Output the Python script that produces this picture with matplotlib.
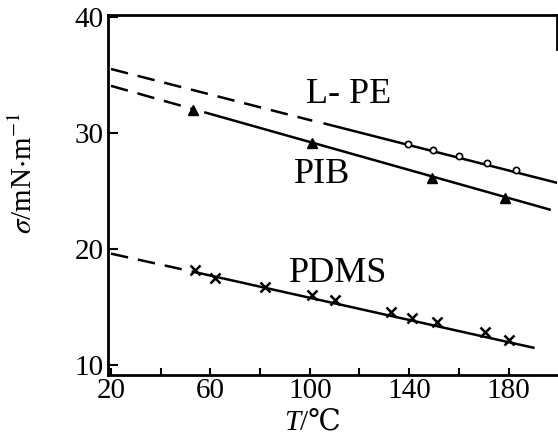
import matplotlib
matplotlib.use("Agg")
import matplotlib.pyplot as plt
from matplotlib.ticker import FixedLocator

plt.rcParams['font.family'] = ['Liberation Serif', 'DejaVu Serif', 'Noto Sans CJK SC']
plt.rcParams['mathtext.fontset'] = 'stix'

# Surface tension (mN/m) versus temperature (deg C)
# L-PE: measured points and fitted line (dashed = extrapolation)
lpe_T = [139.5, 149.5, 160.0, 171.5, 183.0]
lpe_sigma = [29.0, 28.5, 28.05, 27.4, 26.8]
lpe_extrap_T = [20, 101]
lpe_extrap_sigma = [35.5, 31.05]
lpe_fit_T = [106, 199.5]
lpe_fit_sigma = [30.8, 25.7]

# PIB
pib_T = [53.0, 101.0, 149.0, 178.5]
pib_sigma = [32.0, 29.1, 26.1, 24.4]
pib_extrap_T = [20, 53]
pib_extrap_sigma = [34.05, 32.05]
pib_fit_T = [58, 196.5]
pib_fit_sigma = [31.75, 23.4]

# PDMS
pdms_T = [54.0, 62.0, 82.0, 100.7, 110.0, 132.5, 141.2, 151.2, 170.6, 180.0]
pdms_sigma = [18.2, 17.5, 16.75, 16.05, 15.6, 14.6, 14.05, 13.7, 12.85, 12.2]
pdms_extrap_T = [20, 55]
pdms_extrap_sigma = [19.6, 17.95]
pdms_fit_T = [55, 190]
pdms_fit_sigma = [17.95, 11.5]

curve_labels = ["L- PE", "PIB", "PDMS"]
label_T = [98.5, 93.6, 91.6]
label_sigma = [33.3, 26.4, 17.85]

x_labeled_ticks = [20, 60, 100, 140, 180]
x_minor_ticks = [40, 80, 120, 160]
y_ticks = [10, 20, 30, 40]

fig = plt.figure(figsize=(5.58, 4.45), dpi=100)
ax = fig.add_axes([108 / 558, 1 - 375 / 445, (557 - 108) / 558, (375 - 15) / 445])

lw = 1.8
dash = (7, 4)

# Fitted lines and extrapolations
ax.plot(lpe_extrap_T, lpe_extrap_sigma, color='black', lw=lw, dashes=dash)
ax.plot(lpe_fit_T, lpe_fit_sigma, color='black', lw=lw)
ax.plot(pib_extrap_T, pib_extrap_sigma, color='black', lw=lw, dashes=dash)
ax.plot(pib_fit_T, pib_fit_sigma, color='black', lw=lw)
ax.plot(pdms_extrap_T, pdms_extrap_sigma, color='black', lw=lw, dashes=dash)
ax.plot(pdms_fit_T, pdms_fit_sigma, color='black', lw=lw)

# Measured points
ax.plot(lpe_T, lpe_sigma, linestyle='none', marker='o', ms=4.5,
        mfc='white', mec='black', mew=1.2, zorder=3)
ax.plot(pib_T, pib_sigma, linestyle='none', marker='^', ms=7,
        mfc='black', mec='black', zorder=3)
ax.plot(pdms_T, pdms_sigma, linestyle='none', marker='x', ms=7,
        mec='black', mew=1.8, zorder=3)

for txt, tx, ty in zip(curve_labels, label_T, label_sigma):
    ax.text(tx, ty, txt, fontsize=26, ha='left', va='center')

ax.set_xlim(18.8, 199.5)
ax.set_ylim(9.15, 40.15)

ax.xaxis.set_major_locator(FixedLocator(x_labeled_ticks))
ax.xaxis.set_minor_locator(FixedLocator(x_minor_ticks))
ax.set_xticklabels([str(v) for v in x_labeled_ticks])
ax.yaxis.set_major_locator(FixedLocator(y_ticks))
ax.set_yticklabels([str(v) for v in y_ticks])

ax.tick_params(axis='x', which='both', direction='in', length=5, width=1.5,
               labelsize=21, pad=2)
ax.tick_params(axis='y', which='both', direction='in', length=7, width=1.5,
               labelsize=21, pad=3)

for side in ['left', 'bottom', 'top', 'right']:
    ax.spines[side].set_linewidth(2)
ax.spines['right'].set_bounds(37.2, 40.15)

# Axis titles: italic symbol followed by the unit
fig.text(300 / 558, 1 - 423 / 445, 'T', fontsize=21, fontstyle='italic',
         ha='right', va='center')
fig.text(300 / 558, 1 - 423 / 445, '/℃', fontsize=21, ha='left', va='center')

ax.set_ylabel(r'$\sigma$/mN$\cdot$m$^{-1}$', fontsize=21)
ax.yaxis.set_label_coords((38 - 108) / 449, (375 - 173) / 360)

fig.savefig('out.png', dpi=100)
